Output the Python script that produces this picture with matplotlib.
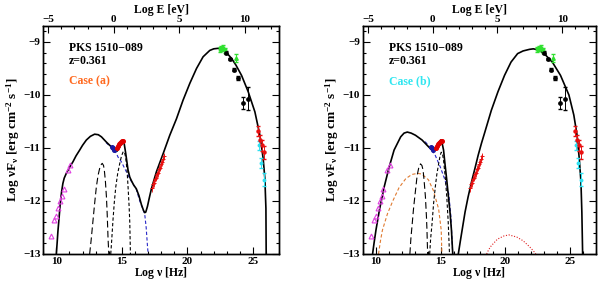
import matplotlib
matplotlib.use("Agg")
import matplotlib.pyplot as plt
from matplotlib.ticker import MultipleLocator

plt.rcParams['font.family'] = ['Liberation Serif', 'DejaVu Serif']
plt.rcParams['font.weight'] = 'bold'
plt.rcParams['mathtext.fontset'] = 'custom'
plt.rcParams['mathtext.rm'] = 'Liberation Serif:bold'
plt.rcParams['mathtext.it'] = 'Liberation Serif:bold'
plt.rcParams['mathtext.bf'] = 'Liberation Serif:bold'
plt.rcParams['xtick.labelsize'] = 8
plt.rcParams['ytick.labelsize'] = 8

# ---------------- data points (shared by both panels) ----------------
radio_nu = [9.62, 9.84, 10.0, 10.12, 10.3, 10.45, 10.56, 10.89, 11.07]
radio_F = [-12.66, -12.35, -12.28, -12.14, -12.0, -11.9, -11.78, -11.42, -11.33]

blue_nu = [14.25, 14.32, 14.4]
blue_F = [-10.98, -11.0, -11.03]

opt_nu = [14.6, 14.68, 14.76, 14.84, 14.92, 15.0, 15.08]
opt_F = [-11.0, -10.96, -10.93, -10.91, -10.89, -10.87, -10.86]

xray_nu = [17.28, 17.35, 17.42, 17.5, 17.58, 17.65, 17.72, 17.8, 17.88, 17.95, 18.02, 18.1, 18.18]
xray_F = [-11.76, -11.68, -11.66, -11.58, -11.56, -11.5, -11.47, -11.4, -11.37, -11.3, -11.27, -11.21, -11.16]

fermi_nu = [22.45, 22.58, 22.72, 22.88]
fermi_F = [-9.14, -9.12, -9.11, -9.16]
fermi_tri_nu = [23.7]
fermi_tri_F = [-9.3]

agile_nu = [22.95, 23.25, 23.55, 23.85, 24.2, 24.58]
agile_F = [-9.2, -9.33, -9.52, -9.68, -10.15, -10.07]
agile_err = [0.02, 0.02, 0.03, 0.03, 0.12, 0.22]

tev_nu = [25.4, 25.5, 25.68, 25.85]
tev_F = [-10.68, -10.85, -10.95, -11.08]
tev_err = [0.1, 0.1, 0.1, 0.12]

cyan_nu = [25.42, 25.62, 25.8]
cyan_F = [-10.95, -11.28, -11.6]
cyan_err = [0.08, 0.1, 0.12]

# ---------------- model curves, case (a) ----------------
a_tot_nu = [10.0, 10.06, 10.12, 10.2, 10.3, 10.4, 10.5, 10.6, 10.76, 11.0, 11.27, 11.5, 11.78, 12.0,
            12.29, 12.6, 12.92, 13.2, 13.44, 13.82, 14.2, 14.45, 14.63, 14.8, 14.95, 15.05, 15.15,
            15.29, 15.47, 15.6, 15.73, 15.9, 16.1, 16.3, 16.49, 16.65, 16.74, 16.82, 16.95, 17.1,
            17.25, 17.45, 17.63, 17.9, 18.14, 18.65, 19.16, 19.66, 20.18, 20.69, 21.19, 21.7, 22.0,
            22.35, 22.7, 23.0, 23.36, 23.7, 24.12, 24.63, 25.14, 25.52, 25.77, 25.9, 25.98, 26.0]
a_tot_F = [-13.0, -12.8, -12.58, -12.35, -12.05, -11.83, -11.67, -11.57, -11.48, -11.37, -11.26, -11.15,
           -11.04, -10.95, -10.85, -10.78, -10.74, -10.75, -10.79, -10.89, -10.98, -11.04, -11.06, -11.0,
           -10.92, -10.86, -10.88, -11.1, -11.42, -11.55, -11.62, -11.7, -11.77, -11.9, -12.07, -12.18,
           -12.22, -12.21, -12.1, -11.93, -11.77, -11.6, -11.45, -11.27, -11.11, -10.76, -10.45, -10.1,
           -9.78, -9.5, -9.28, -9.16, -9.13, -9.12, -9.15, -9.21, -9.31, -9.44, -9.63, -9.94, -10.32,
           -10.76, -11.2, -11.58, -12.14, -13.0]

a_syn_nu = [13.8, 14.1, 14.3, 14.45, 14.58, 14.7, 14.96, 15.34, 15.6, 15.9, 16.1, 16.36, 16.6, 16.74,
            16.85, 16.95, 17.0]
a_syn_F = [-10.9, -10.97, -11.01, -11.05, -11.1, -11.17, -11.26, -11.45, -11.58, -11.7, -11.78, -12.0,
           -12.15, -12.25, -12.5, -12.85, -13.0]

a_torus_nu = [12.54, 12.65, 12.8, 12.92, 13.05, 13.18, 13.3, 13.4, 13.5, 13.6, 13.66, 13.74, 13.82,
              13.88, 13.94, 14.0]
a_torus_F = [-13.0, -12.75, -12.36, -12.05, -11.74, -11.52, -11.39, -11.32, -11.29, -11.33, -11.42,
             -11.62, -11.92, -12.25, -12.68, -13.0]

a_disk_nu = [14.15, 14.22, 14.32, 14.42, 14.53, 14.68, 14.83, 14.97, 15.1, 15.2, 15.3, 15.4, 15.47,
             15.55, 15.6, 15.65]
a_disk_F = [-13.0, -12.75, -12.36, -12.03, -11.74, -11.48, -11.3, -11.15, -11.07, -11.08, -11.2,
            -11.45, -11.74, -12.1, -12.4, -13.0]

# ---------------- model curves, case (b) ----------------
b_tot_nu = [9.74, 9.85, 10.0, 10.26, 10.63, 11.02, 11.4, 11.91, 12.17, 12.42, 12.72, 13.05, 13.56,
            14.07, 14.33, 14.54, 14.74, 14.89, 15.01, 15.12, 15.22, 15.33, 15.47, 15.61, 15.73, 15.83,
            15.93]
b_tot_F = [-13.0, -12.8, -12.55, -12.18, -11.74, -11.36, -11.04, -10.79, -10.72, -10.7, -10.72, -10.76,
           -10.85, -10.98, -11.04, -11.02, -10.95, -10.89, -10.85, -10.92, -11.04, -11.3, -11.61, -11.95,
           -12.24, -12.55, -13.0]

b_ic_nu = [16.36, 16.52, 16.72, 16.88, 17.11, 17.38, 17.66, 17.89, 18.15, 18.41, 18.91, 19.42, 19.93,
           20.43, 20.94, 21.36, 21.85, 22.15, 22.55, 22.99, 23.62, 24.25, 24.9, 25.28, 25.53, 25.7,
           25.83, 25.9, 25.96]
b_ic_F = [-13.0, -12.75, -12.45, -12.21, -11.93, -11.64, -11.37, -11.14, -10.91, -10.7, -10.29, -9.94,
          -9.63, -9.38, -9.22, -9.17, -9.14, -9.13, -9.15, -9.22, -9.38, -9.63, -10.0, -10.38, -10.76,
          -11.2, -11.64, -12.21, -13.0]

b_syn_nu = [13.8, 14.1, 14.33, 14.58, 14.97, 15.34, 15.62, 15.79, 15.89, 15.93]
b_syn_F = [-10.88, -10.97, -11.05, -11.14, -11.36, -11.61, -11.86, -12.3, -12.8, -13.0]

b_torus_nu = [12.62, 12.7, 12.8, 12.9, 13.0, 13.1, 13.18, 13.3, 13.44, 13.55, 13.64, 13.72, 13.82,
              13.9, 13.94, 13.99]
b_torus_F = [-13.0, -12.7, -12.43, -12.15, -11.92, -11.7, -11.52, -11.38, -11.3, -11.33, -11.42,
             -11.62, -11.92, -12.3, -12.55, -13.0]

b_disk_nu = [14.15, 14.22, 14.33, 14.45, 14.58, 14.7, 14.84, 14.95, 15.04, 15.13, 15.22, 15.35,
             15.47, 15.58, 15.68]
b_disk_F = [-13.0, -12.72, -12.43, -12.05, -11.74, -11.5, -11.3, -11.15, -11.08, -11.1, -11.23,
            -11.55, -11.92, -12.4, -13.0]

b_ext_nu = [10.2, 10.35, 10.5, 10.89, 11.3, 11.78, 12.3, 12.77, 13.2, 13.53, 14.05, 14.43, 14.84,
            15.04, 15.09]
b_ext_F = [-13.0, -12.75, -12.55, -12.24, -12.0, -11.75, -11.58, -11.5, -11.48, -11.49, -11.6, -11.8,
           -12.15, -12.55, -13.0]

b_ssc_nu = [18.55, 18.7, 18.89, 19.38, 19.88, 20.27, 20.87, 21.36, 21.85, 22.15, 22.35]
b_ssc_F = [-13.0, -12.92, -12.85, -12.72, -12.66, -12.64, -12.68, -12.75, -12.86, -12.94, -13.0]

x_ticks = [10, 15, 20, 25]
x_ticklabels = ["10", "15", "20", "25"]
y_ticks = [-9, -10, -11, -12, -13]
y_ticklabels = ["\u22129", "\u221210", "\u221211", "\u221212", "\u221213"]
e_ticks = [-5, 0, 5, 10]
e_ticklabels = ["\u22125", "0", "5", "10"]
LOG_H = 14.383  # log10(eV / h) : log nu[Hz] - log E[eV]

case_labels = ["Case (a)", "Case (b)"]
case_colors = ["#ff6a20", "#30e6f0"]

# ---------------- figure ----------------
fig = plt.figure(figsize=(6.0, 2.83), dpi=100)
axL = fig.add_axes([0.072, 0.1025, 0.3935, 0.8055])
axR = fig.add_axes([0.605, 0.1025, 0.3885, 0.8055])

BLUE = "#2828c8"
FS = 8.0
XLIM = (9, 27)


def draw_data(ax):
    ax.plot(radio_nu, radio_F, linestyle='none', marker='^', ms=3.5, mfc='none', mec='#e040e0', mew=0.8, zorder=5)
    ax.plot(blue_nu, blue_F, linestyle='none', marker='o', ms=2.6, color='#1a1aa0', zorder=5)
    ax.plot(opt_nu, opt_F, linestyle='none', marker='o', ms=2.6, color='#e00000', zorder=5)
    ax.errorbar(xray_nu, xray_F, yerr=0.07, xerr=0.04, fmt='+', ms=3.0, mew=0.7, color='#e81010',
                elinewidth=0.6, capsize=0, zorder=5)
    ax.errorbar(fermi_nu, fermi_F, xerr=0.08, yerr=0.05, fmt='s', ms=2.0, color='#30e030', elinewidth=0.7,
                capsize=1.2, zorder=5)
    ax.errorbar(fermi_tri_nu, fermi_tri_F, yerr=0.08, fmt='^', ms=2.5, color='#30e030', elinewidth=0.7,
                capsize=1.5, zorder=5)
    ax.errorbar(agile_nu, agile_F, yerr=agile_err, fmt='o', ms=2.4, color='black', elinewidth=0.7,
                capsize=1.5, zorder=5)
    ax.errorbar(cyan_nu, cyan_F, yerr=cyan_err, fmt='o', ms=1.8, color='#30e0f0', elinewidth=0.7,
                capsize=1.2, zorder=5)
    ax.errorbar(tev_nu, tev_F, yerr=tev_err, fmt='o', ms=2.2, color='#e81010', elinewidth=0.7,
                capsize=1.5, zorder=5)


def style(ax, idx):
    ax.set_xlim(*XLIM)
    ax.set_ylim(-13, -8.7)
    ax.set_xticks(x_ticks)
    ax.set_xticklabels(x_ticklabels)
    ax.set_yticks(y_ticks)
    ax.set_yticklabels(y_ticklabels)
    ax.xaxis.set_minor_locator(MultipleLocator(1))
    ax.yaxis.set_minor_locator(MultipleLocator(0.2))
    ax.tick_params(which='both', direction='in', right=True, top=False, width=0.8, pad=2, labelsize=FS)
    ax.tick_params(which='major', length=5)
    ax.tick_params(which='minor', length=2.5)
    for s in ax.spines.values():
        s.set_linewidth(1.0)
    ax.set_xlabel("Log $\\nu$ [Hz]", fontsize=8.5, fontweight='bold', labelpad=-0.5)
    ax.set_ylabel("Log $\\nu F_{\\nu}$ [erg cm$^{-2}$ s$^{-1}$]", fontsize=9.5, fontweight='bold', labelpad=1)
    top = ax.twiny()
    top.set_xlim(XLIM[0] - LOG_H, XLIM[1] - LOG_H)
    top.set_xticks(e_ticks)
    top.set_xticklabels(e_ticklabels)
    top.xaxis.set_minor_locator(MultipleLocator(1))
    top.tick_params(which='both', direction='in', width=0.8, pad=1.5, labelsize=FS)
    top.tick_params(which='major', length=5)
    top.tick_params(which='minor', length=2.5)
    top.set_xlabel("Log E [eV]", fontsize=8.5, fontweight='bold', labelpad=1.5)
    for s in top.spines.values():
        s.set_linewidth(1.0)
    ax.text(0.11, 0.905, "PKS 1510\u2212089", transform=ax.transAxes, fontsize=8.5, fontweight='bold',
            va='center', ha='left')
    ax.text(0.11, 0.848, "z=0.361", transform=ax.transAxes, fontsize=8.5, fontweight='bold',
            va='center', ha='left')
    ax.text(0.11, 0.758, case_labels[idx], transform=ax.transAxes, fontsize=8.5, fontweight='bold',
            va='center', ha='left', color=case_colors[idx])


# left panel (case a)
axL.plot(a_syn_nu, a_syn_F, color=BLUE, lw=0.8, dashes=(3, 2), zorder=2)
axL.plot(a_torus_nu, a_torus_F, color='black', lw=0.8, dashes=(6, 3), zorder=2)
axL.plot(a_disk_nu, a_disk_F, color='black', lw=0.8, dashes=(3, 2), zorder=2)
axL.plot(a_tot_nu, a_tot_F, color='black', lw=1.2, zorder=3)
draw_data(axL)
style(axL, 0)

# right panel (case b)
axR.plot(b_ext_nu, b_ext_F, color='#e07a30', lw=0.8, dashes=(3, 2), zorder=2)
axR.plot(b_ssc_nu, b_ssc_F, color='#e02020', lw=0.8, dashes=(1, 1.5), zorder=2)
axR.plot(b_syn_nu, b_syn_F, color=BLUE, lw=0.8, dashes=(3, 2), zorder=2)
axR.plot(b_torus_nu, b_torus_F, color='black', lw=0.8, dashes=(6, 3), zorder=2)
axR.plot(b_disk_nu, b_disk_F, color='black', lw=0.8, dashes=(3, 2), zorder=2)
axR.plot(b_tot_nu, b_tot_F, color='black', lw=1.2, zorder=3)
axR.plot(b_ic_nu, b_ic_F, color='black', lw=1.2, zorder=3)
draw_data(axR)
style(axR, 1)

fig.savefig("out.png", dpi=100)
